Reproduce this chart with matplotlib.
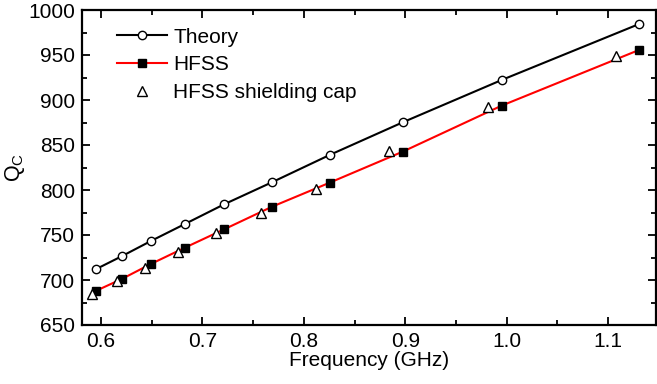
import matplotlib
matplotlib.use("Agg")
import matplotlib.pyplot as plt
from matplotlib.ticker import MultipleLocator

plt.rcParams['font.family'] = ['Liberation Sans', 'DejaVu Sans']
plt.rcParams['mathtext.default'] = 'regular'

# Theory
f_theory = [0.5948, 0.6210, 0.6492, 0.6827, 0.7214, 0.7686, 0.8254, 0.8975, 0.9950, 1.1305]
q_theory = [711.9, 726.7, 743.3, 762.2, 784.1, 808.6, 838.9, 875.2, 922.2, 984.4]

# HFSS simulation
f_hfss = [0.5948, 0.6210, 0.6492, 0.6827, 0.7214, 0.7686, 0.8254, 0.8975, 0.9950, 1.1305]
q_hfss = [687.8, 701.4, 717.8, 735.9, 756.3, 781.4, 808.1, 842.6, 893.7, 955.6]

# HFSS simulation with shielding cap
f_cap = [0.5908, 0.6155, 0.6433, 0.6755, 0.7132, 0.7575, 0.8116, 0.8838, 0.9816, 1.1082]
q_cap = [684.1, 698.9, 713.7, 731.4, 751.9, 774.1, 800.8, 843.7, 891.9, 949.2]

fig = plt.figure(figsize=(6.57, 3.84), dpi=100)
ax = fig.add_axes([82/657, 1 - 325/384, 574/657, 315/384])

ax.plot(f_theory, q_theory, color='black', lw=1.5, marker='o', ms=6,
        mfc='white', mec='black', mew=1.0, label='Theory', zorder=3)
ax.plot(f_hfss, q_hfss, color='red', lw=1.5, marker='s', ms=5.2,
        mfc='black', mec='black', label='HFSS', zorder=3)
ax.plot(f_cap, q_cap, ls='none', marker='^', ms=7.5,
        mfc='white', mec='black', mew=1.0, label='HFSS shielding cap', zorder=4)

ax.set_xlim(0.5813, 1.1472)
ax.set_ylim(650, 1000)
ax.xaxis.set_major_locator(MultipleLocator(0.1))
ax.xaxis.set_minor_locator(MultipleLocator(0.05))
ax.yaxis.set_major_locator(MultipleLocator(50))
ax.yaxis.set_minor_locator(MultipleLocator(25))
ax.tick_params(which='both', direction='in', top=True, right=True, labelsize=15, width=1.3)
ax.tick_params(which='major', length=6, pad=5)
ax.tick_params(which='minor', length=3.5)
for s in ax.spines.values():
    s.set_linewidth(1.6)

ax.set_xlabel('Frequency (GHz)', fontsize=15, labelpad=0)
ax.set_ylabel('Q$_C$', fontsize=15.5, labelpad=1)

ax.legend(loc='upper left', frameon=False, fontsize=15, handlelength=2.4,
          handletextpad=0.3, labelspacing=0.42, borderaxespad=0.45,
          bbox_to_anchor=(0.03, 1.0))

fig.savefig('out.png', dpi=100)
